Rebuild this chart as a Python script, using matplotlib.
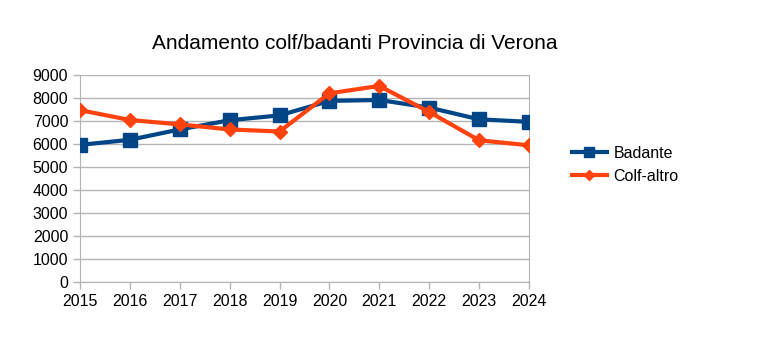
import matplotlib.pyplot as plt

plt.rcParams['font.family'] = ['Liberation Sans', 'DejaVu Sans']

years = [2015, 2016, 2017, 2018, 2019, 2020, 2021, 2022, 2023, 2024]
badante = [5960, 6180, 6630, 7030, 7240, 7870, 7910, 7580, 7070, 6960]
colf_altro = [7470, 7040, 6850, 6630, 6540, 8200, 8520, 7390, 6160, 5940]
y_ticks = list(range(0, 9001, 1000))

fig = plt.figure(figsize=(7.72, 3.55), dpi=100)
ax = fig.add_axes([0.1036, 0.2056, 0.5816, 0.5834])

ax.plot(years, badante, color='#004586', lw=3, marker='s', ms=10, label='Badante', zorder=3)
ax.plot(years, colf_altro, color='#ff420e', lw=3, marker='D', ms=7, label='Colf-altro', zorder=4)

ax.set_xlim(2015, 2024)
ax.set_ylim(0, 9000)
ax.set_xticks(years)
ax.set_yticks(y_ticks)
ax.tick_params(axis='both', labelsize=11.5, color='#b3b3b3', length=5, width=1)
ax.grid(axis='y', color='#b3b3b3', lw=1)
for s in ['left', 'bottom', 'right']:
    ax.spines[s].set_color('#b3b3b3')
ax.spines['top'].set_visible(False)

fig.text(0.459, 0.878, 'Andamento colf/badanti Provincia di Verona', ha='center', va='center', fontsize=15)
fig.legend(loc='center left', bbox_to_anchor=(0.722, 0.535), frameon=False, fontsize=11.5,
           handlelength=2.2, labelspacing=0.5, handletextpad=0.4, markerscale=0.7)

fig.savefig('out.png', dpi=100)
